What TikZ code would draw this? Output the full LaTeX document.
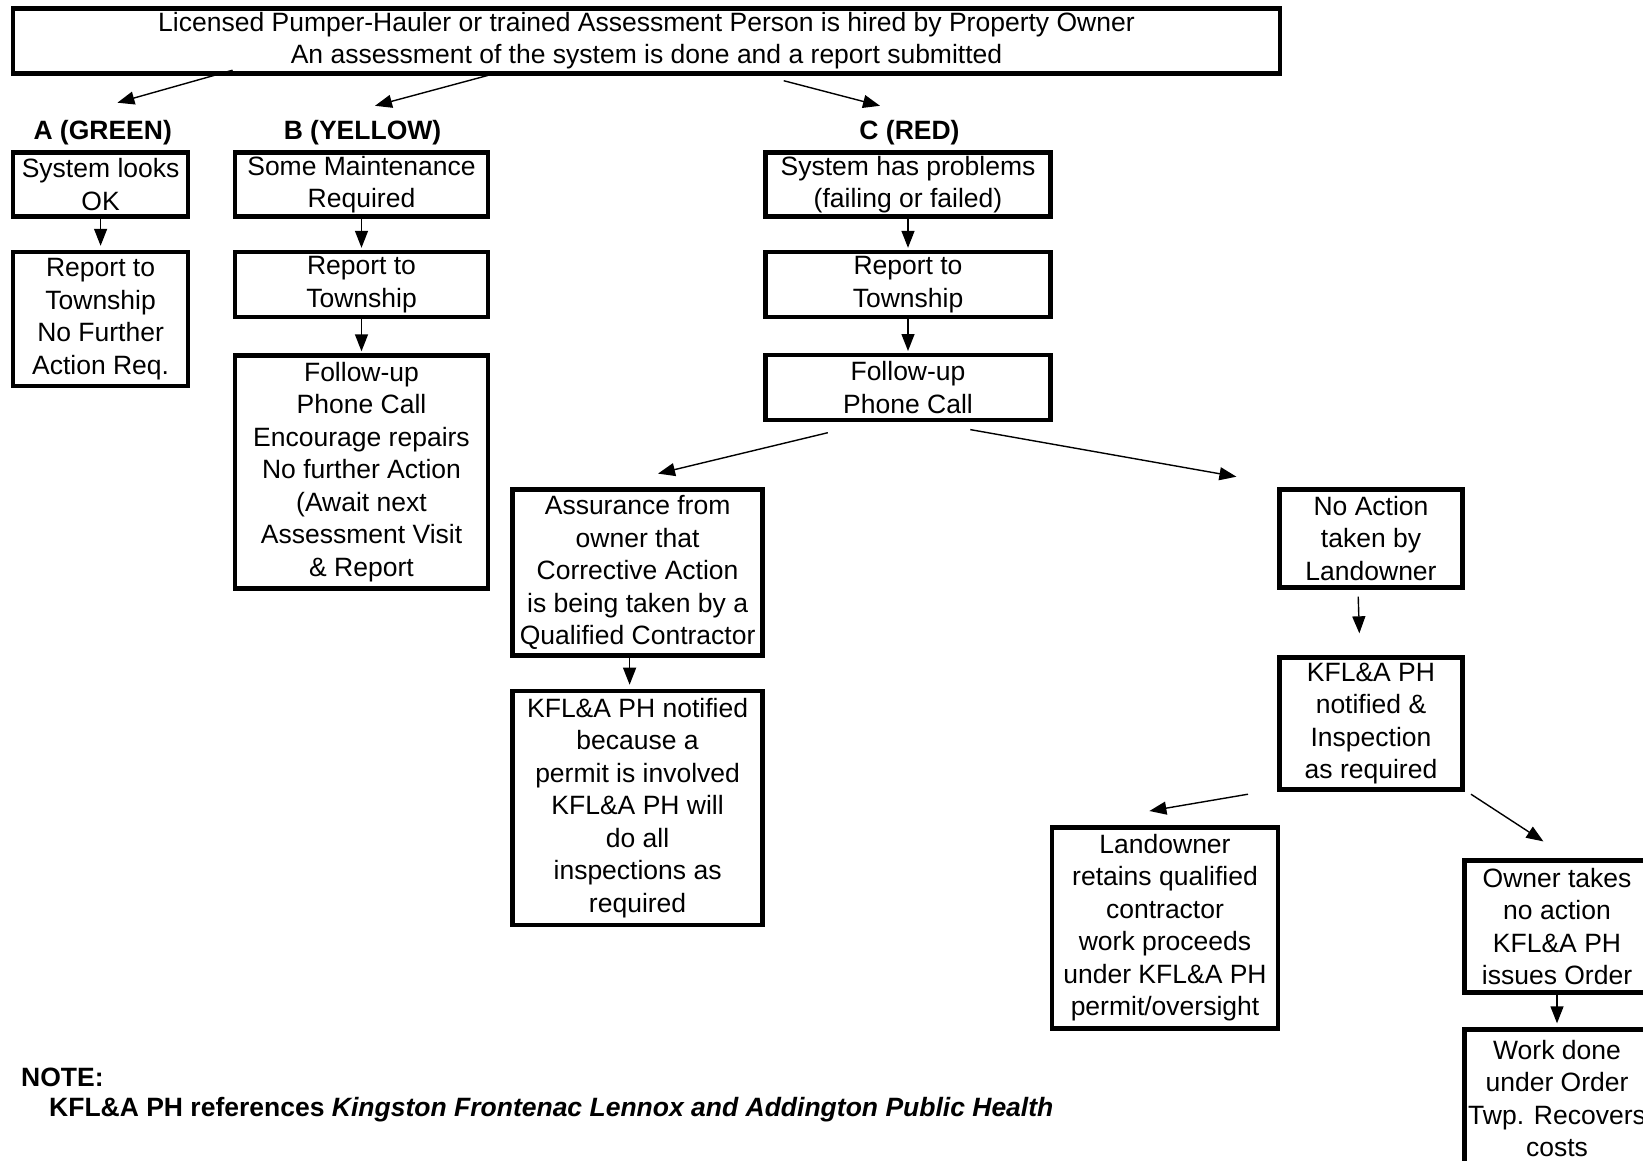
\documentclass[tikz,border=0pt]{standalone}
\usepackage{fontspec}
\setmainfont{Liberation Sans}
\usetikzlibrary{arrows.meta,positioning}

\begin{document}
\begin{tikzpicture}[x=1pt,y=-1pt,inner sep=0pt,
  box/.style={draw,line width=4.4pt,align=center,font=\fontsize{26.5}{32.5}\selectfont},
  lab/.style={font=\bfseries\fontsize{26.5}{32.5}\selectfont},
  arr/.style={-{Triangle[length=17pt,width=13pt]},line width=1.4pt}]
\useasboundingbox (0,0) rectangle (1643,1160);

\node[box,minimum width=1267pt,minimum height=65pt] (hire) at (646.5,40.8)
  {Licensed Pumper-Hauler or trained Assessment Person is hired by Property Owner\\
   An assessment of the system is done and a report submitted};

\node[lab] (labA) at (102.7,133) {A (GREEN)};
\node[lab] (labB) at (362.5,133) {B (YELLOW)};
\node[lab] (labC) at (909.5,133) {C (RED)};

% column A
\node[box,minimum width=175pt,minimum height=64pt] (okA) at (100.6,184.4) {System looks\\OK};
\node[box,minimum width=175pt,minimum height=134pt] (repA) at (100.6,319) {Report to\\Township\\No Further\\Action Req.};

% column B
\node[box,minimum width=253pt,minimum height=64pt] (maintB) at (361.5,184.4) {Some Maintenance\\Required};
\node[box,minimum width=253pt,minimum height=65pt] (repB) at (361.5,284.5) {Report to\\Township};
\node[box,minimum width=253pt,minimum height=233pt] (followB) at (361.5,472)
  {Follow-up\\Phone Call\\Encourage repairs\\No further Action\\(Await next\\Assessment Visit\\\& Report};

% column C
\node[box,minimum width=285pt,minimum height=64pt] (probC) at (908,184.4) {System has problems\\(failing or failed)};
\node[box,minimum width=285pt,minimum height=65pt] (repC) at (908,284.5) {Report to\\Township};
\node[box,minimum width=285pt,minimum height=65pt] (followC) at (908,387.7) {Follow-up\\Phone Call};

\node[box,minimum width=250pt,minimum height=166pt] (assure) at (637.6,572.6)
  {Assurance from\\owner that\\Corrective Action\\is being taken by a\\Qualified Contractor};
\node[box,minimum width=250pt,minimum height=234pt] (kfl) at (637.6,807.9)
  {KFL\&A PH notified\\because a\\permit is involved\\KFL\&A PH will\\do all\\inspections as\\required};

\node[box,minimum width=183pt,minimum height=98pt] (noAct) at (1371,538.5) {No Action\\taken by\\Landowner};
\node[box,minimum width=183pt,minimum height=132pt] (inspect) at (1371,723.5)
  {KFL\&A PH\\notified \&\\Inspection\\as required};

\node[box,minimum width=226pt,minimum height=201pt] (landown) at (1165,927.8)
  {Landowner\\retains qualified\\contractor\\work proceeds\\under KFL\&A PH\\permit/oversight};
\node[box,minimum width=185pt,minimum height=132pt] (ownerNo) at (1557,926.5)
  {Owner takes\\no action\\KFL\&A PH\\issues Order};
\node[box,minimum width=185pt,minimum height=138pt] (workDone) at (1557,1098.5)
  {Work done\\under Order\\Twp. Recovers\\costs};

\node[lab,anchor=west] (note) at (21,1077) {NOTE:};
\node[lab,anchor=west] (noteTxt) at (49,1110)
  {KFL\&A PH references \textit{Kingston Frontenac Lennox and Addington Public Health}};

% arrows
\coordinate (hA) at (232.6,70.2);
\coordinate (tA) at (117.4,102.7);
\coordinate (hB) at (488,75.4);
\coordinate (tB) at (375,105.8);
\coordinate (hC) at (783.7,80.7);
\coordinate (tC) at (880,105.8);
\coordinate (fL) at (827.8,432.7);
\coordinate (tL) at (658,473.6);
\coordinate (fR) at (970.3,429.6);
\coordinate (tR) at (1236.4,476.7);
\coordinate (iL) at (1248,794.2);
\coordinate (jL) at (1149.4,811);
\coordinate (iR) at (1471,794.2);
\coordinate (jR) at (1543.4,841.4);

\draw[arr] (hA) -- (tA);
\draw[arr] (hB) -- (tB);
\draw[arr] (hC) -- (tC);
\draw[arr,shorten >=4pt] (okA) -- (repA);
\draw[arr,shorten >=2pt] (maintB) -- (repB);
\draw[arr,shorten >=2pt] (repB) -- (followB);
\draw[arr,shorten >=2pt] (probC) -- (repC);
\draw[arr,shorten >=2pt] (repC) -- (followC);
\draw[arr] (fL) -- (tL);
\draw[arr] (fR) -- (tR);
\draw[arr,shorten >=4pt] ([xshift=-8pt]assure.south) -- ([xshift=-8pt]kfl.north);
\draw[arr,shorten <=7pt,shorten >=22pt] ([xshift=-13pt]noAct.south) -- ([xshift=-11pt]inspect.north);
\draw[arr] (iL) -- (jL);
\draw[arr] (iR) -- (jR);
\draw[arr,shorten >=4pt] (ownerNo) -- (workDone);

\end{tikzpicture}
\end{document}
